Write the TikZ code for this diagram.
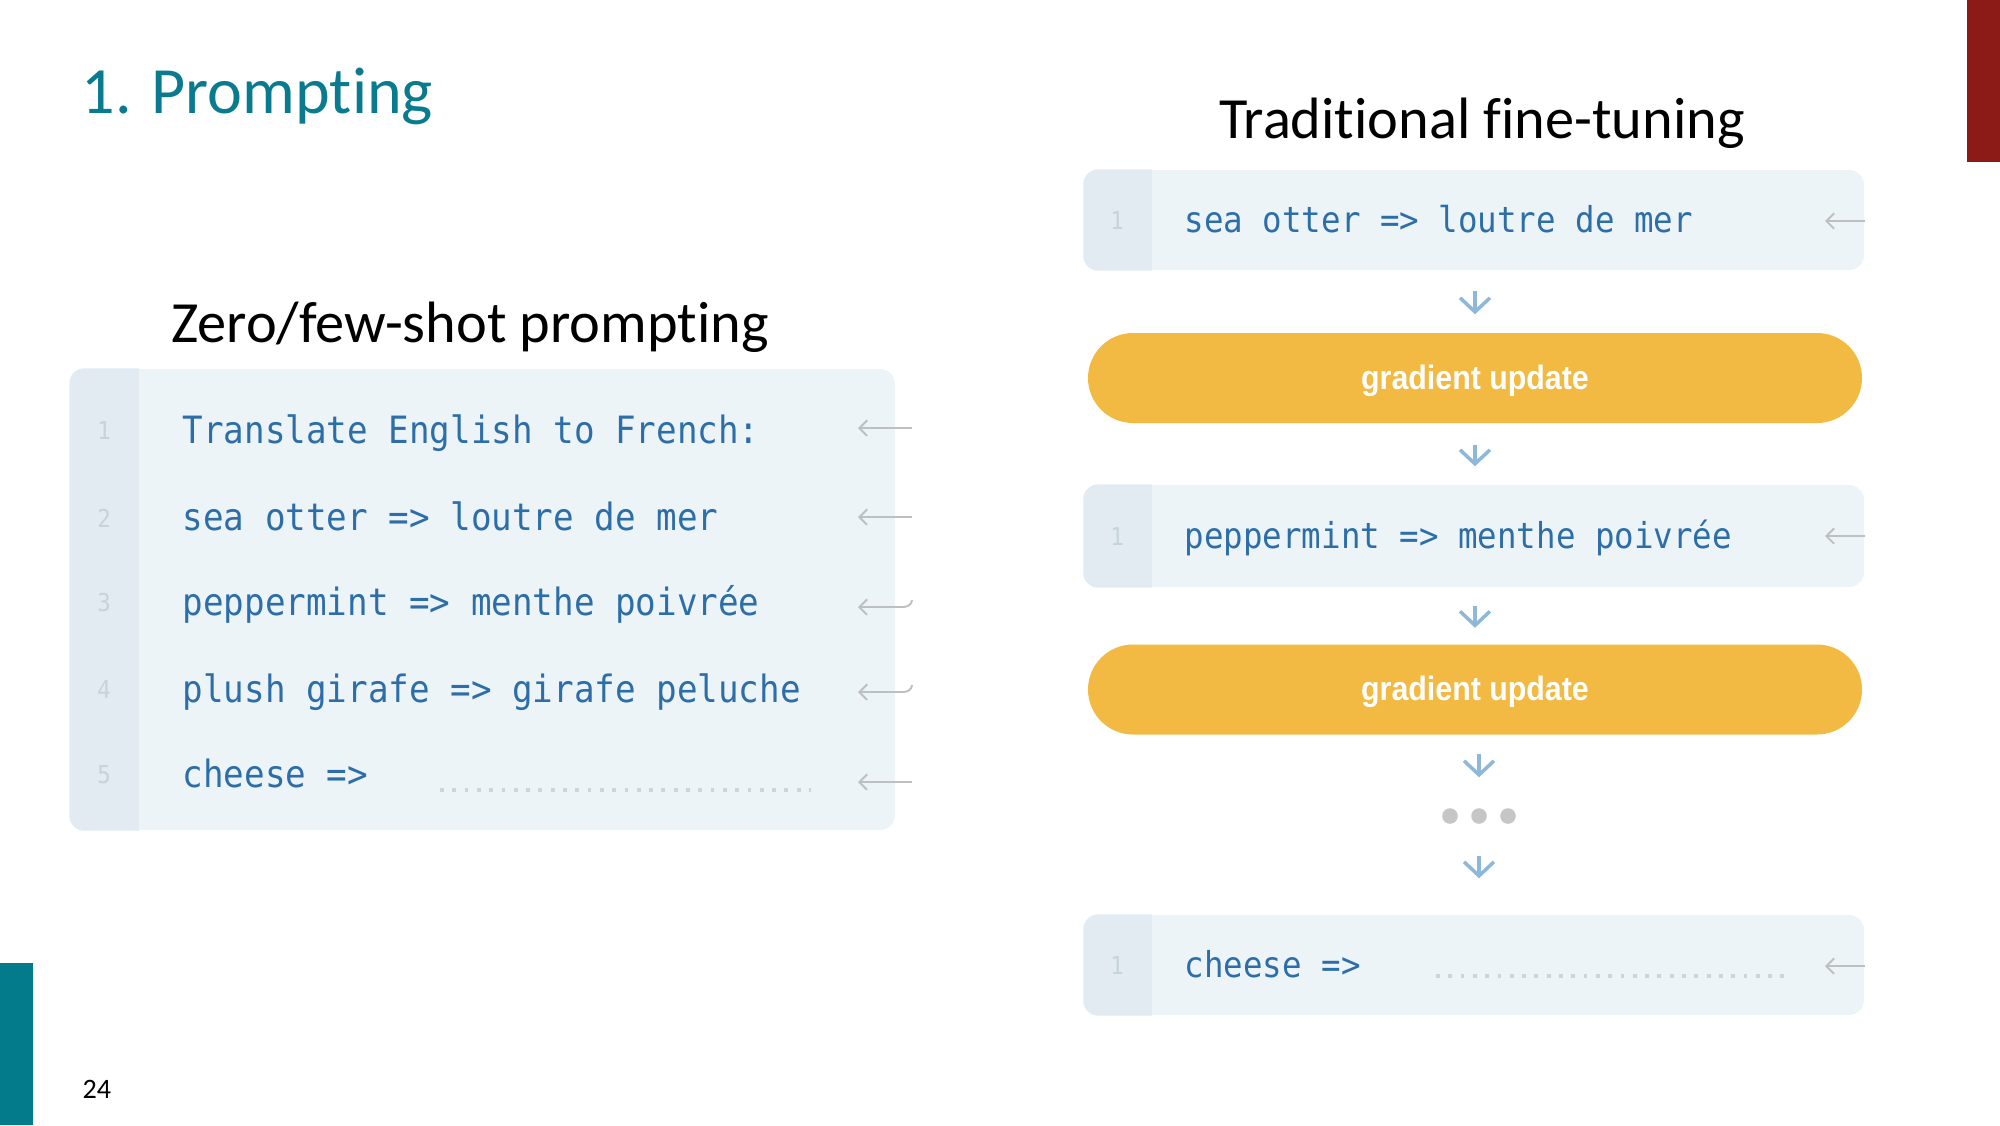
\documentclass[tikz,border=0pt]{standalone}
\usepackage{fontspec}
\setmainfont{Carlito}[Ligatures=NoCommon]
\newfontfamily\codefont[FakeStretch=0.91]{DejaVu Sans Mono}
\newfontfamily\btnfont[FakeStretch=0.9]{Liberation Sans}
\usetikzlibrary{arrows.meta}

\definecolor{tealc}{HTML}{0A7B8E}
\definecolor{tealbar}{HTML}{037B8B}
\definecolor{redbar}{HTML}{8C1A17}
\definecolor{boxbody}{HTML}{ECF4F8}
\definecolor{gutterc}{HTML}{E1EBF1}
\definecolor{codeblue}{HTML}{2E6EA8}
\definecolor{lnumc}{HTML}{C6D3DB}
\definecolor{backc}{HTML}{BDBFC0}
\definecolor{flowc}{HTML}{8DB8DA}
\definecolor{pillc}{HTML}{F2BA42}
\definecolor{dotc}{HTML}{C6C6C6}
\definecolor{blankc}{HTML}{CDD5DA}

\tikzset{
	codebox/.style={fill=boxbody, rounded corners=0.15cm, inner sep=0pt},
	codeline/.style={anchor=mid west, inner sep=0pt, text=codeblue, font=\codefont\fontsize{10.7}{13}\selectfont},
	codeliner/.style={codeline, font=\codefont\fontsize{10.15}{12}\selectfont},
	linenum/.style={inner sep=0pt, text=lnumc, font=\codefont\fontsize{7}{9}\selectfont},
	heading/.style={anchor=base, inner sep=0pt, font=\fontsize{16.6}{19}\selectfont},
	pill/.style={fill=pillc, rounded corners=0.45cm, minimum width=7.74cm, minimum height=0.9cm, text height=6.9pt, text depth=0.6pt, text=white, font=\btnfont\bfseries\fontsize{9.6}{12}\selectfont},
	flow/.style={draw=flowc, line width=1pt, -{Straight Barb[length=4pt,width=8.5pt]}},
	backarr/.style={draw=backc, line width=0.55pt, {Straight Barb[length=2.2pt,width=4.4pt]}-},
	blankline/.style={draw=blankc, line width=0.9pt, dash pattern=on 1.1pt off 2.4pt}
}

\begin{document}
\begin{tikzpicture}
\useasboundingbox (0,0) rectangle (20,-11.25);
%Folie
\fill[tealbar] (0,-9.63) rectangle (0.33,-11.25);
\fill[redbar] (19.67,0) rectangle (20,-1.62);
\node[anchor=base west, inner sep=0pt, text=tealc, font=\fontsize{18.8}{22}\selectfont] (title) at (0.81,-1.13) {1. Prompting};
\node[anchor=base west, inner sep=0pt, font=\fontsize{8}{10}\selectfont] (page) at (0.82,-10.98) {24};

%Zero/few-shot
\node[heading] (zhead) at (4.70,-3.42) {Zero/few-shot prompting};
\node[codebox, minimum width=8.25cm, minimum height=4.61cm] (left) at (4.825,-5.995) {};
\begin{scope}
\clip[rounded corners=0.15cm] (left.south west) rectangle (left.north east);
\fill[gutterc] (left.south west) rectangle ([xshift=0.7cm]left.north west);
\end{scope}
\node[linenum] (n1) at (1.04,-4.31) {1};
\node[linenum] (n2) at (1.04,-5.18) {2};
\node[linenum] (n3) at (1.04,-6.03) {3};
\node[linenum] (n4) at (1.04,-6.90) {4};
\node[linenum] (n5) at (1.04,-7.75) {5};
\node[codeline] (l1) at (1.82,-4.35) {Translate English to French:};
\node[codeline] (l2) at (1.82,-5.22) {sea otter => loutre de mer};
\node[codeline] (l3) at (1.82,-6.07) {peppermint => menthe poivrée};
\node[codeline] (l4) at (1.82,-6.94) {plush girafe => girafe peluche};
\node[codeline] (l5) at (1.82,-7.79) {cheese =>};
\coordinate (b1) at (4.40,-7.90);
\draw[blankline] (b1) -- ++(3.71,0);
\coordinate (r1) at (9.12,-4.28);
\coordinate (r2) at (9.12,-5.17);
\coordinate (r3) at (9.12,-6.00);
\coordinate (r4) at (9.12,-6.85);
\coordinate (r5) at (9.12,-7.82);
\draw[backarr] ([xshift=-0.54cm]r1) -- (r1);
\draw[backarr] ([xshift=-0.54cm]r2) -- (r2);
\draw[backarr] ([xshift=-0.54cm,yshift=-0.07cm]r3) -- ([xshift=-0.09cm,yshift=-0.07cm]r3) to[out=0,in=-90] (r3);
\draw[backarr] ([xshift=-0.54cm,yshift=-0.07cm]r4) -- ([xshift=-0.09cm,yshift=-0.07cm]r4) to[out=0,in=-90] (r4);
\draw[backarr] ([xshift=-0.54cm]r5) -- (r5);

%Fine-tuning
\node[heading] (thead) at (14.82,-1.38) {Traditional fine-tuning};
\node[codebox, minimum width=7.80cm, minimum height=1.0cm] (box1) at (14.74,-2.20) {};
\node[codebox, minimum width=7.80cm, minimum height=1.02cm] (box2) at (14.74,-5.36) {};
\node[codebox, minimum width=7.80cm, minimum height=1.0cm] (box3) at (14.74,-9.65) {};
\begin{scope}
\clip[rounded corners=0.15cm] (box1.south west) rectangle (box1.north east);
\fill[gutterc] (box1.south west) rectangle ([xshift=0.69cm]box1.north west);
\end{scope}
\begin{scope}
\clip[rounded corners=0.15cm] (box2.south west) rectangle (box2.north east);
\fill[gutterc] (box2.south west) rectangle ([xshift=0.69cm]box2.north west);
\end{scope}
\begin{scope}
\clip[rounded corners=0.15cm] (box3.south west) rectangle (box3.north east);
\fill[gutterc] (box3.south west) rectangle ([xshift=0.69cm]box3.north west);
\end{scope}
\node[linenum] (m1) at (11.17,-2.21) {1};
\node[linenum] (m2) at (11.17,-5.37) {1};
\node[linenum] (m3) at (11.17,-9.66) {1};
\node[codeliner] (t1) at (11.84,-2.24) {sea otter => loutre de mer};
\node[codeliner] (t2) at (11.84,-5.40) {peppermint => menthe poivrée};
\node[codeliner] (t3) at (11.84,-9.69) {cheese =>};
\coordinate (b2) at (14.36,-9.76);
\draw[blankline] (b2) -- ++(3.50,0);
\coordinate (s1) at (18.65,-2.21);
\coordinate (s2) at (18.65,-5.36);
\coordinate (s3) at (18.65,-9.66);
\draw[backarr] ([xshift=-0.40cm]s1) -- (s1);
\draw[backarr] ([xshift=-0.40cm]s2) -- (s2);
\draw[backarr] ([xshift=-0.40cm]s3) -- (s3);

\node[pill] (pill1) at (14.75,-3.78) {gradient update};
\node[pill] (pill2) at (14.75,-6.895) {gradient update};
\node[inner sep=0pt, minimum width=0.7cm, minimum height=0.16cm] (dots) at (14.79,-8.16) {};
\fill[dotc] (dots.center) circle (0.078);
\fill[dotc] ([xshift=-0.29cm]dots.center) circle (0.078);
\fill[dotc] ([xshift=0.29cm]dots.center) circle (0.078);

\draw[flow, shorten <=0.2cm, shorten >=0.18cm] (box1.south -| pill1.north) -- (pill1.north);
\draw[flow, shorten <=0.21cm, shorten >=0.18cm] (pill1.south) -- (pill1.south |- box2.north);
\draw[flow, shorten <=0.18cm, shorten >=0.16cm] (box2.south -| pill2.north) -- (pill2.north);
\draw[flow, shorten <=0.19cm, shorten >=0.30cm] (pill2.south -| dots.north) -- (dots.north);
\draw[flow, shorten <=0.31cm, shorten >=0.36cm] (dots.south) -- (dots.south |- box3.north);
\end{tikzpicture}
\end{document}
